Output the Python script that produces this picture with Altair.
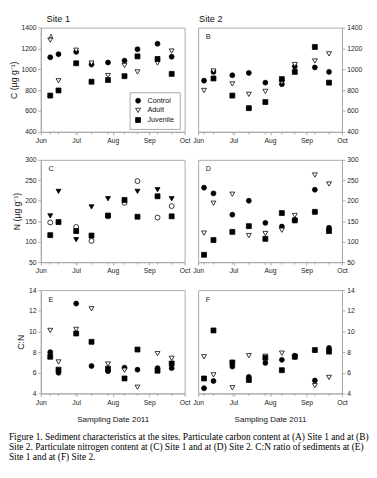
import altair as alt
import pandas as pd

series = ["Control", "Adult", "Juvenile"]
site1_dates = ["2011-06-09", "2011-06-16", "2011-07-01", "2011-07-14", "2011-07-28",
               "2011-08-11", "2011-08-22", "2011-09-08", "2011-09-20"]
site2_dates = ["2011-06-06", "2011-06-14", "2011-06-30", "2011-07-14", "2011-07-28",
               "2011-08-11", "2011-08-22", "2011-09-08", "2011-09-20"]

# Panel A: C, Site 1
A_control = [1115, 1145, 1167, 1046, 1065, 1083, 1192, 1245, 1120]
A_adult = [1280, 890, 1183, 1060, 940, 1037, 975, 1060, 1175]
A_juvenile = [748, 797, 1058, 881, 897, 934, 1124, 1099, 956]
# Panel B: C, Site 2
B_control = [891, 975, 943, 965, 872, 857, 1027, 1018, 975]
B_adult = [797, 984, 860, 760, 788, 875, 1046, 1080, 1148]
B_juvenile = [None, 912, 748, 627, 686, 906, 975, 1214, 872]
# Panel C: N, Site 1
C_control = [147, None, 136, 102, 162, 195, 248, 159, 187]
C_adult = [163, 223, 105, 185, 205, None, 223, 227, 205]
C_juvenile = [116, 148, 126, 115, 164, 202, 161, 211, 162]
# Panel D: N, Site 2
D_control = [232, 218, 166, 200, 146, 137, 153, 227, 134]
D_adult = [121, 194, 216, 115, 120, 128, 164, 263, 241]
D_juvenile = [68, 104, 124, 138, 107, 170, 152, 173, 126]
# Panel E: C:N, Site 1
E_control = [8.0, 6.0, 12.7, 6.65, 6.15, 6.5, 6.3, 6.45, 6.45]
E_adult = [10.1, 7.05, 10.2, 12.2, 6.85, 6.25, 4.6, 7.85, 7.4]
E_juvenile = [7.55, 6.3, 9.8, 9.0, 6.4, 5.45, 8.25, 6.2, 6.9]
# Panel F: C:N, Site 2
F_control = [4.5, 5.2, 6.6, 5.6, 6.95, 7.25, 7.65, 5.25, 8.4]
F_adult = [7.55, 5.8, 4.55, 7.65, 7.6, 7.9, 7.45, 4.75, 5.55]
F_juvenile = [5.45, 10.1, 7.0, 5.3, 7.45, 6.25, 7.55, 8.2, 8.05]

caption = [
    "Figure 1. Sediment characteristics at the sites. Particulate carbon content at (A) Site 1 and at (B)",
    "Site 2. Particulate nitrogen content at (C) Site 1 and at (D) Site 2. C:N ratio of sediments at (E)",
    "Site 1 and at (F) Site 2.",
]

GRAY = "#a8a8a8"
SANS = "Liberation Sans"
W = 149


def dt(m, d=1):
    return alt.DateTime(year=2011, month=m, date=d, utc=True)


def make_panel(dates, ctrl, adult, juv, letter, ytitle, ydomain, ystep, side,
               fills, height, legend=False, title=None, title_dx=0, xtitle=None):
    rows = []
    for name, vals in zip(series, [ctrl, adult, juv]):
        for d, v in zip(dates, vals):
            if v is not None:
                rows.append({"date": d, "value": v, "series": name})
    df = pd.DataFrame(rows)
    yvals = []
    v = ydomain[0]
    while v <= ydomain[1] + 1e-9:
        yvals.append(v)
        v += ystep
    axis_kw = dict(values=[dt(6), dt(7), dt(8), dt(9), dt(10)], format="%b",
                   labelPadding=2, titlePadding=10, titleFontSize=8.3,
                   titleFontWeight="normal", titleFont=SANS, labelFlush=False,
                   labelOverlap=False, labelBound=False)
    axis_kw["title"] = xtitle if xtitle else None
    xscale = alt.Scale(type="utc", domain=[dt(6), dt(10)], nice=False)
    xaxis = alt.Axis(**axis_kw)
    if legend:
        leg = alt.Legend(title=None, orient="none", legendX=92, legendY=67,
                         strokeColor=GRAY, padding=5, labelFontSize=7.5, labelFont=SANS,
                         symbolStrokeColor="black", symbolStrokeWidth=0.8, rowPadding=1,
                         symbolSize=26, labelOffset=6, labelColor="#111")
    else:
        leg = None
    yaxis = alt.Axis(values=yvals, orient=side, title=ytitle, titleFontSize=9,
                     titleFontWeight="normal", titleFont=SANS, titlePadding=3,
                     labelPadding=2, format="d", labelOverlap=False)
    yscale = alt.Scale(domain=ydomain, nice=False, zero=False)
    pts = alt.Chart(df).mark_point(filled=True, stroke="black", strokeWidth=0.8, size=26,
                                   opacity=1).encode(
        x=alt.X("date:T", scale=xscale, axis=xaxis),
        y=alt.Y("value:Q", scale=yscale, axis=yaxis),
        shape=alt.Shape("series:N", scale=alt.Scale(domain=series,
                                                    range=["circle", "triangle-down", "square"]),
                        legend=leg),
        fill=alt.Fill("series:N", scale=alt.Scale(domain=series, range=fills), legend=leg),
    )
    tick_df = pd.DataFrame({"date": dates})
    minor = alt.Chart(tick_df).mark_rule(stroke=GRAY, strokeWidth=1).encode(
        x=alt.X("date:T", scale=xscale, axis=xaxis),
        y=alt.value(height), y2=alt.value(height + 2.5),
    )
    lab = alt.Chart(pd.DataFrame({"t": [letter]})).mark_text(
        font=SANS, fontSize=7.5, color="#222", align="left", baseline="middle"
    ).encode(x=alt.value(8), y=alt.value(10), text="t:N")
    layers = [pts, minor, lab]
    if title:
        layers.append(alt.Chart(pd.DataFrame({"t": [title]})).mark_text(
            font=SANS, fontSize=9.5, color="#111", align="left", baseline="middle"
        ).encode(x=alt.value(title_dx), y=alt.value(-9), text="t:N"))
    return alt.layer(*layers).properties(width=W, height=height)


normal = ["black", "white", "black"]
alt_c = ["white", "black", "black"]
cy = "C (µg g⁻¹)"
ny = "N (µg g⁻¹)"

A = make_panel(site1_dates, A_control, A_adult, A_juvenile, "A", cy, [400, 1400], 200,
               "left", normal, 108, legend=True, title="Site 1", title_dx=6)
B = make_panel(site2_dates, B_control, B_adult, B_juvenile, "B", None, [400, 1400], 200,
               "right", normal, 108, title="Site 2", title_dx=1)
C = make_panel(site1_dates, C_control, C_adult, C_juvenile, "C", ny, [50, 300], 50,
               "left", alt_c, 106)
D = make_panel(site2_dates, D_control, D_adult, D_juvenile, "D", None, [50, 300], 50,
               "right", normal, 106)
E = make_panel(site1_dates, E_control, E_adult, E_juvenile, "E", "C:N", [4, 14], 2,
               "left", normal, 107, xtitle="Sampling Date 2011")
F = make_panel(site2_dates, F_control, F_adult, F_juvenile, "F", None, [4, 14], 2,
               "right", normal, 107, xtitle="Sampling Date 2011")

res = dict(shape="independent", fill="independent")
chart = alt.concat(A, B, C, D, E, F, columns=2, spacing=alt.RowColnumber(row=29, column=14),
                   bounds="flush").resolve_scale(**res).properties(
    title=alt.TitleParams(caption, orient="bottom", anchor="start", frame="bounds",
                          font="Liberation Serif", fontSize=9.7, fontWeight="normal",
                          color="#000", lineHeight=10.5, offset=9),
    padding={"left": 0, "top": -3, "right": 0, "bottom": 0},
).configure_view(stroke=GRAY, strokeWidth=1).configure_axis(
    grid=False, domainColor=GRAY, tickColor=GRAY, tickSize=3, labelFont=SANS,
    labelFontSize=7, labelColor="#222", titleColor="#111",
).configure_legend(symbolFillColor="black")

chart.save("out.html", embed_options={"renderer": "svg", "actions": False})
